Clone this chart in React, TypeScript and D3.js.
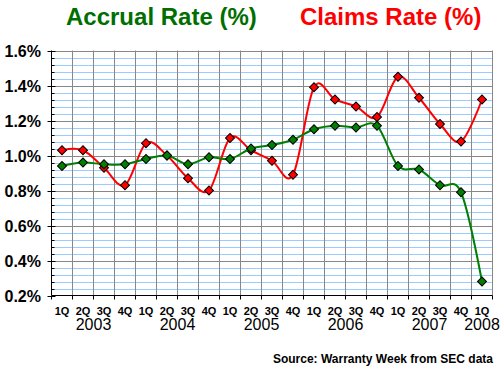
import * as d3 from "d3"

const quarters = ["1Q", "2Q", "3Q", "4Q", "1Q", "2Q", "3Q", "4Q", "1Q", "2Q", "3Q", "4Q", "1Q", "2Q", "3Q", "4Q", "1Q", "2Q", "3Q", "4Q", "1Q"]
const years = ["2003", "2004", "2005", "2006", "2007", "2008"]
const accrualRate = [0.94, 0.96, 0.95, 0.95, 0.98, 1.0, 0.95, 0.99, 0.98, 1.04, 1.06, 1.09, 1.15, 1.17, 1.16, 1.17, 0.94, 0.92, 0.83, 0.79, 0.28]
const claimsRate = [1.03, 1.03, 0.93, 0.83, 1.07, 1.0, 0.87, 0.8, 1.1, 1.03, 0.97, 0.89, 1.39, 1.32, 1.28, 1.22, 1.45, 1.33, 1.18, 1.08, 1.32]
const yTicks = [0.2, 0.4, 0.6, 0.8, 1.0, 1.2, 1.4, 1.6]

const W = 504
const H = 370
const left = 51.5
const right = 492.5
const top = 50.5
const bottom = 295.5
const font = "'Liberation Sans', Arial, sans-serif"

const App = () => {
  const idx = quarters.map((_, i) => i)
  const x = d3.scaleBand<number>().domain(idx).range([left, right]).padding(0)
  const y = d3.scaleLinear().domain([0.2, 1.6]).range([bottom, top])
  const cx = (i: number) => (x(i) ?? 0) + x.bandwidth() / 2

  const minor = d3.range(0, 36).map(k => 0.2 + k * 0.04).filter(v => Math.abs(((v - 0.2) / 0.2) - Math.round((v - 0.2) / 0.2)) > 0.01)

  const line = d3.line<number>()
    .x((_, i) => cx(i))
    .y(d => y(d))
    .curve(d3.curveCardinal.tension(0))

  const diamond = d3.symbol(d3.symbolSquare, 40)()

  const series = [
    { values: claimsRate, color: "#ff0000" },
    { values: accrualRate, color: "#007f00" }
  ]

  return (
    <svg width={W} height={H} style={{ position: "absolute", left: 0, top: 0, background: "#fff" }} fontFamily={font}>
      <text x={66} y={25} fontSize={24} fontWeight="bold" fill="#006f00">Accrual Rate (%)</text>
      <text x={300} y={25} fontSize={24} fontWeight="bold" fill="#ff0000">Claims Rate (%)</text>

      {minor.map((v, i) => (
        <line key={"m" + i} x1={left} x2={right} y1={Math.round(y(v)) + 0.5} y2={Math.round(y(v)) + 0.5} stroke="#99ccff" />
      ))}
      {yTicks.slice(1).map(v => (
        <line key={"g" + v} x1={left} x2={right} y1={Math.round(y(v)) + 0.5} y2={Math.round(y(v)) + 0.5} stroke="#888" />
      ))}
      {idx.map(i => (
        <line key={"v" + i} x1={(x(i) ?? 0) + x.bandwidth()} x2={(x(i) ?? 0) + x.bandwidth()} y1={top} y2={bottom} stroke="#888" />
      ))}

      {/* axes */}
      <line x1={left} x2={left} y1={top} y2={bottom} stroke="#000" />
      <line x1={left} x2={right} y1={bottom} y2={bottom} stroke="#000" />
      {yTicks.map(v => (
        <g key={"yt" + v}>
          <line x1={left - 4} x2={left + 4} y1={Math.round(y(v)) + 0.5} y2={Math.round(y(v)) + 0.5} stroke="#000" />
          <text x={41} y={y(v) + 6} fontSize={16} fontWeight="bold" textAnchor="end">{d3.format(".1f")(v)}%</text>
        </g>
      ))}
      {minor.map((v, i) => (
        <line key={"mt" + i} x1={left} x2={left + 3} y1={Math.round(y(v)) + 0.5} y2={Math.round(y(v)) + 0.5} stroke="#000" />
      ))}
      {[-1, ...idx].map(i => {
        const xx = i < 0 ? left : (x(i) ?? 0) + x.bandwidth()
        return <line key={"xt" + i} x1={xx} x2={xx} y1={bottom} y2={bottom + 4} stroke="#000" />
      })}
      {quarters.map((q, i) => (
        <text key={"q" + i} x={cx(i)} y={315} fontSize={11} fontWeight="bold" textAnchor="middle">{q}</text>
      ))}
      {years.map((yr, k) => {
        const xx = k < years.length - 1 ? (x(k * 4 + 1) ?? 0) + x.bandwidth() : cx(k * 4)
        return <text key={yr} x={xx} y={330} fontSize={16} textAnchor="middle">{yr}</text>
      })}

      {series.map((s, si) => (
        <g key={"s" + si}>
          <path d={line(s.values) ?? ""} fill="none" stroke={s.color} strokeWidth={2} />
          {s.values.map((v, i) => (
            <path key={i} d={diamond ?? ""} transform={`translate(${cx(i)},${y(v)}) rotate(45)`} fill={s.color} stroke="#000" strokeWidth={1} />
          ))}
        </g>
      ))}

      <text x={493} y={363} fontSize={12} fontWeight="bold" textAnchor="end">Source: Warranty Week from SEC data</text>
    </svg>
  )
}

export default App
